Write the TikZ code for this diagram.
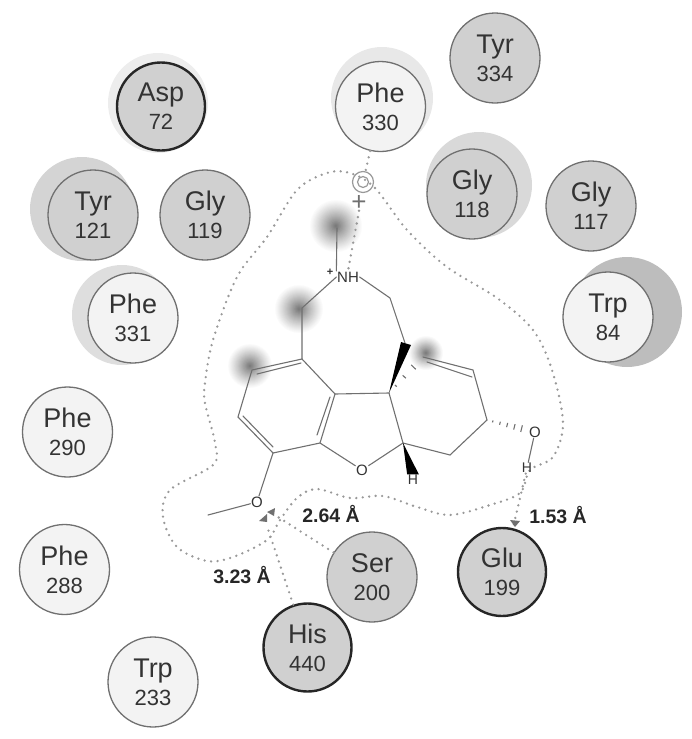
\documentclass[tikz,border=0pt]{standalone}
\usepackage{fontspec}
\setmainfont{Liberation Sans}
\usetikzlibrary{calc}
\definecolor{ink}{HTML}{333333}
\definecolor{dark}{HTML}{D0D0D0}
\definecolor{pale}{HTML}{F3F3F3}
\definecolor{bond}{HTML}{707070}
\definecolor{dots}{HTML}{999999}
\newcommand{\rl}[2]{{\fontsize{27}{28}\selectfont #1}\\{\fontsize{22}{28}\selectfont #2}}
\newcommand{\fuzz}[3]{\foreach \k in {1,...,24}{\pgfmathsetmacro{\rr}{#3*(25-\k)/24}\pgfmathsetmacro{\pc}{52*(\k/24)^1.15}\fill[black!\pc] (#1,#2) circle (\rr);}}
\newcommand{\hash}[3]{\foreach \t/\w in {#3}{\draw[bond,line width=1.1pt] ($(#1)!\t!(#2)!\w pt!90:(#2)$) -- ($(#1)!\t!(#2)!-\w pt!90:(#2)$);}}
\tikzset{
 res/.style={circle,inner sep=0pt,minimum size=90pt,align=center,text=ink,draw=bond,line width=1.3pt,font=\fontsize{22}{28}\selectfont},
 resd/.style={res,fill=dark},
 resp/.style={res,fill=pale},
 strong/.style={line width=2.4pt,draw=black!85,minimum size=88pt},
 bondl/.style={draw=bond,line width=1.1pt,line cap=round},
 dotl/.style={draw=dots,line width=2.6pt,dash pattern=on 0pt off 6.5pt,line cap=round},
 atom/.style={inner sep=0.6pt,text=ink,font=\fontsize{15}{16}\selectfont},
 dist/.style={text=black!85,inner sep=0pt,font=\fontsize{19.5}{21}\selectfont\bfseries},
}
\begin{document}
\begin{tikzpicture}[x=1pt,y=-1pt]
\useasboundingbox (0,0) rectangle (692,739);
% halos
\fill[black!7] (158,103) circle (50);
\fill[black!9] (382,98) circle (51);
\fill[black!15] (479,185) circle (53);
\fill[black!17] (82,209) circle (52);
\fill[black!13] (122,315) circle (50);
\fill[black!26] (627,312) circle (55);
% hydrophobic blobs
\fuzz{336}{226}{26}
\fuzz{299}{309}{24}
\fuzz{250}{366}{22}
\fuzz{426}{353}{17}
% residues
\node[resd,strong] (asp) at (161,106.5) {\rl{Asp}{72}};
\node[resp] (phea) at (380.5,106.5) {\rl{Phe}{330}};
\node[resd] (tyra) at (495,58) {\rl{Tyr}{334}};
\node[resd] (glya) at (472,194) {\rl{Gly}{118}};
\node[resd] (glyb) at (591,206) {\rl{Gly}{117}};
\node[resp] (trpa) at (608,317) {\rl{Trp}{84}};
\node[resd] (glyc) at (205,215) {\rl{Gly}{119}};
\node[resd] (tyrb) at (93,215) {\rl{Tyr}{121}};
\node[resp] (pheb) at (133,318) {\rl{Phe}{331}};
\node[resp] (phec) at (67.5,432) {\rl{Phe}{290}};
\node[resp] (phed) at (64.5,569.5) {\rl{Phe}{288}};
\node[resp] (trpb) at (153,682) {\rl{Trp}{233}};
\node[resd,strong] (his) at (307.5,647.5) {\rl{His}{440}};
\node[resd] (ser) at (372,577) {\rl{Ser}{200}};
\node[resd,strong] (glu) at (502,572) {\rl{Glu}{199}};
% ligand surface contour
\draw[dotl] plot[smooth cycle,tension=0.55] coordinates {
 (350,173) (375,188) (407,230) (447,267) (497,298) (533,330) (552,370) (563,423) (553,457)
 (530,470) (520,493) (490,505) (450,515) (417,507) (383,496) (350,498) (317,489) (297,498)
 (280,520) (267,540) (233,557) (207,561) (177,547) (163,517) (170,490) (213,465) (215,443)
 (205,403) (205,383) (213,340) (237,277) (267,237) (297,190) (327,173)};
% atoms
\coordinate (me) at (337,228);
\node[atom] (nh) at (348,277) {NH};
\node[atom,inner sep=0pt,font=\fontsize{11}{12}\selectfont\bfseries] (star) at (330,272) {+};
\coordinate (c1) at (302,308);
\coordinate (c2) at (302,359);
\coordinate (c3) at (390,298);
\coordinate (c4) at (405,343);
\coordinate (c5) at (389,393);
\coordinate (c6) at (335,394);
\coordinate (c7) at (252,370);
\coordinate (c8) at (238,417);
\coordinate (c9) at (273,453);
\coordinate (c10) at (320,443);
\coordinate (c11) at (403,443);
\coordinate (c12) at (450,455);
\coordinate (c13) at (487,420);
\coordinate (c14) at (473,370);
\coordinate (c15) at (423,357);
\coordinate (me2) at (208,515);
\node[atom] (o1) at (362,470) {O};
\node[atom,font=\fontsize{14}{15}\selectfont] (h1) at (413,480) {H};
\node[atom] (o2) at (535,432) {O};
\node[atom,font=\fontsize{14}{15}\selectfont] (h2) at (527,468) {H};
\node[atom] (o3) at (257,502) {O};
% bonds
\draw[bondl] (me) -- (nh.north west);
\draw[bondl] (nh.west) -- (c1) -- (c2) -- (c6) -- (c5);
\draw[bondl] (nh.east) -- (c3) -- (c4);
\draw[bondl] (c2) -- (c7) -- (c8) -- (c9) -- (c10) -- (c6);
\draw[bondl] (301,363) -- (257,374);
\draw[bondl] (243,416) -- (273,447);
\draw[bondl] (330,397) -- (317,435);
\draw[bondl] (c5) -- (c11) -- (c12) -- (c13) -- (c14) -- (c15);
\draw[bondl] (472,377) -- (427,362);
\draw[bondl] (c10) -- (o1) -- (c11);
\draw[bondl] (c9) -- (o3) -- (me2);
\draw[bondl] (o2) -- (h2);
\fill[black] (c5) -- (401,342) -- (411,345) -- cycle;
\fill[black] (c11) -- (h1.north west) -- (h1.north east) -- cycle;
\hash{c5}{c15}{0.2/1.2,0.45/2.2,0.72/3.2}
\hash{c13}{o2}{0.12/1,0.27/1.6,0.42/2.2,0.57/2.8,0.72/3.4}
% aromatic ring and charge
\node[circle,draw=dots,line width=1.2pt,minimum size=21pt,inner sep=0pt] (ring) at (363,182) {};
\node[circle,draw=dots,line width=1.2pt,minimum size=11pt,inner sep=0pt] (ringb) at (363,182) {};
\node[text=bond,inner sep=0pt,font=\fontsize{26}{26}\selectfont] (plus) at (359,203) {+};
\draw[dotl] (phea) -- (ring);
\draw[dotl] (plus.south) to[out=-100,in=80] (nh.north);
% acceptor arrowheads
\coordinate (accs) at (278,517);
\coordinate (acch) at (267,526);
\fill[bond] (259,521) -- (267,514) -- (267,522) -- cycle;
\fill[bond] (267,512) -- (275,508) -- (274,516) -- cycle;
\draw[dotl] (ser) -- (accs);
\draw[dotl] (his) -- (acch);
\draw[dotl] (h2) -- (glu.76);
\fill[bond] (510,520) -- (520,521) -- (515,527) -- cycle;
% distances
\node[dist] (da) at (331,514) {2.64 Å};
\node[dist] (db) at (558,515) {1.53 Å};
\node[dist] (dc) at (242,575) {3.23 Å};
\end{tikzpicture}
\end{document}
